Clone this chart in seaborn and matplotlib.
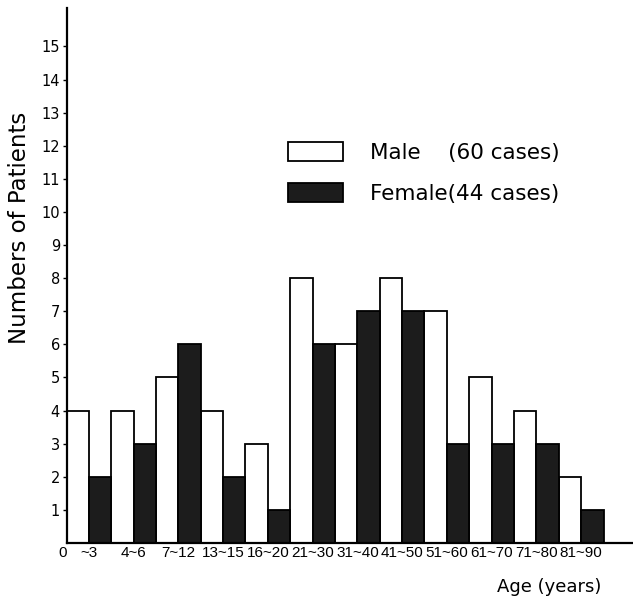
import matplotlib
matplotlib.use("Agg")
import matplotlib.pyplot as plt
from matplotlib.patches import Patch
from matplotlib.transforms import ScaledTranslation
import seaborn as sns
import pandas as pd

# ---- data ----
age_groups = ["~3", "4~6", "7~12", "13~15", "16~20", "21~30",
              "31~40", "41~50", "51~60", "61~70", "71~80", "81~90"]
male = [4, 4, 5, 4, 3, 8, 6, 8, 7, 5, 4, 2]
female = [2, 3, 6, 2, 1, 6, 7, 7, 3, 3, 3, 1]
sexes = ["Male", "Female"]
legend_labels = ["Male    (60 cases)", "Female(44 cases)"]
y_ticks = list(range(1, 16))

df = pd.DataFrame({
    "age": age_groups * 2,
    "sex": [sexes[0]] * len(age_groups) + [sexes[1]] * len(age_groups),
    "count": male + female,
})

sns.set_theme(style="white")
plt.rcParams["font.family"] = ["DejaVu Sans"]
plt.rcParams["text.color"] = "black"
plt.rcParams["axes.labelcolor"] = "black"
plt.rcParams["xtick.color"] = "black"
plt.rcParams["ytick.color"] = "black"

W, H = 633, 604
fig = plt.figure(figsize=(W / 100, H / 100), dpi=100)
ax_left, ax_right = 66.5 / W, 1.0
ax_bottom, ax_top = (H - 543) / H, (H - 8) / H
ax = fig.add_axes([ax_left, ax_bottom, ax_right - ax_left, ax_top - ax_bottom])

female_color = "#1c1c1c"
sns.barplot(data=df, x="age", y="count", hue="sex", order=age_groups,
            hue_order=sexes, palette={"Male": "white", "Female": female_color},
            edgecolor="black", linewidth=1.3, width=1.0, gap=0,
            saturation=1, legend=False, ax=ax)

# spines
sns.despine(ax=ax, top=True, right=True)
for s in ("left", "bottom"):
    ax.spines[s].set_linewidth(1.6)
    ax.spines[s].set_color("black")

# y ticks
ax.set_yticks(y_ticks)
ax.set_yticklabels([str(v) for v in y_ticks], fontsize=10.5, color="black")
ax.tick_params(axis="y", which="major", direction="out", length=3.2,
               width=1.0, pad=1.5, left=True, colors="black")

# x ticks: origin "0" plus group centres
xt = [-0.5] + list(range(len(age_groups)))
ax.set_xticks(xt)
ax.set_xticklabels(["0"] + age_groups,
                   fontfamily=["Liberation Sans Narrow", "Liberation Sans"],
                   fontsize=11, color="black")
ax.tick_params(axis="x", length=0, pad=2.5)

# limits after ticks so ticks do not widen the view
ax.set_xlim(-0.5, -0.5 + (W - 66.5) / 44.75)
ax.set_ylim(0, 16.16)

# nudge the origin label slightly left, as in the reference
zero_lab = ax.get_xticklabels()[0]
zero_lab.set_transform(zero_lab.get_transform() +
                       ScaledTranslation(-3.5 / 100, 0, fig.dpi_scale_trans))

ax.set_xlabel("")
ax.set_ylabel("")

fig.text(20 / W, 1 - 228 / H, "Numbers of Patients", rotation=90,
         ha="center", va="center", fontsize=16.5, color="black")
fig.text(601 / W, 1 - 587 / H, "Age (years)", ha="right", va="center",
         fontsize=13, color="black")

handles = [Patch(facecolor="white", edgecolor="black", linewidth=1.3),
           Patch(facecolor=female_color, edgecolor="black", linewidth=1.3)]
ax.legend(handles, legend_labels, loc="upper left",
          bbox_to_anchor=(288 / W, 1 - 142 / H), bbox_transform=fig.transFigure,
          frameon=False, borderpad=0, borderaxespad=0, fontsize=15.5,
          labelcolor="black",
          handlelength=2.56, handleheight=0.98, handletextpad=1.26,
          labelspacing=0.95)

fig.savefig("out.png", dpi=100)
